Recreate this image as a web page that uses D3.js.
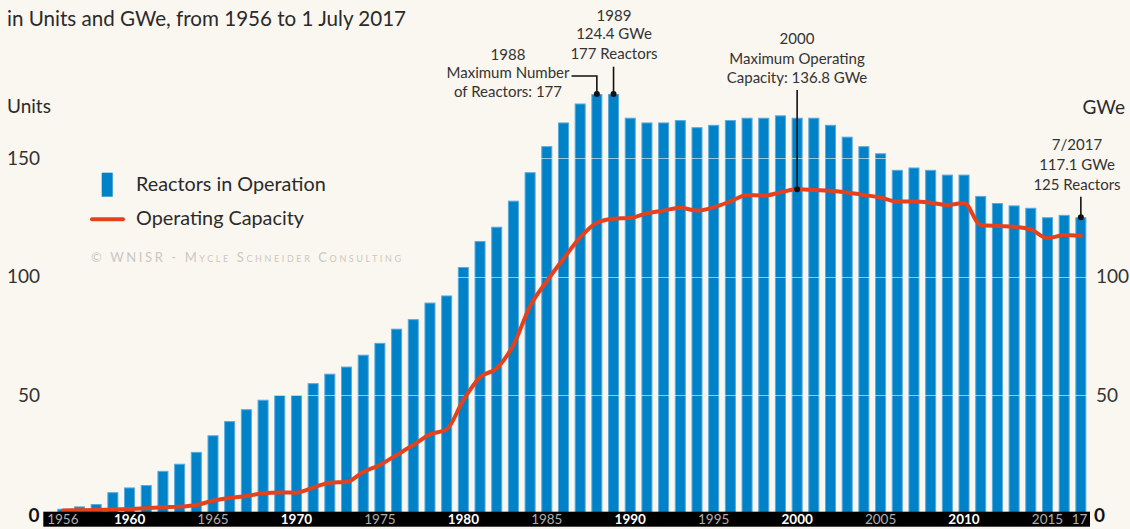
<!DOCTYPE html>
<html>
<head>
<meta charset="utf-8">
<script src="https://cdn.jsdelivr.net/npm/d3@7/dist/d3.min.js"></script>
<style>
  html, body { margin: 0; padding: 0; background: #faf7f0; }
  svg { display: block; font-family: "Lato", "Noto Sans", sans-serif; }
</style>
</head>
<body>
<svg id="chart" width="1130" height="529"></svg>
<script>
// Years shown on the chart (one bar per year, 2017 = 1 July 2017)
const years = [
  1956,1957,1958,1959,1960,1961,1962,1963,1964,1965,1966,1967,
  1968,1969,1970,1971,1972,1973,1974,1975,1976,1977,1978,1979,1980,
  1981,1982,1983,1984,1985,1986,1987,1988,1989,1990,
  1991,1992,1993,1994,1995,1996,1997,1998,1999,2000,
  2001,2002,2003,2004,2005,2006,2007,2008,2009,2010,
  2011,2012,2013,2014,2015,2016,2017
];

// Reactors in operation (units)
const reactors = [
  2,3,4,9,11,12,18,21,26,33,39,44,
  48,50,50,55,59,62,67,72,78,82,89,92,104,
  115,121,132,144,155,165,173,177,177,167,
  165,165,166,163,164,166,167,167,168,167,
  167,164,159,155,152,145,146,145,143,143,
  134,131,130,129,125,126,125
];

// Operating capacity (GWe)
const capacity = [
  1.3,1.4,1.5,1.7,1.9,2.2,2.6,2.9,3.6,5.4,6.5,7.4,
  8.5,8.9,8.8,10.9,13,13.3,17.5,20.5,24.7,28.9,33.4,35.5,47.9,
  57.5,61.3,71.1,87.5,98,107.5,116.5,122.7,124.4,124.7,
  126.7,127.8,129,127.8,129.2,131.7,134.4,134.1,135.5,136.8,
  136.5,136.2,135.4,134.4,133.3,131.6,131.6,131.1,130.2,131,
  121.7,121.3,121,119.9,116.1,117.5,117.1
];

// Year labels in the bottom band
const tickYears  = [1956,1960,1965,1970,1975,1980,1985,1990,1995,2000,2005,2010,2015,2017];
const tickLabels = ["1956","1960","1965","1970","1975","1980","1985","1990","1995","2000","2005","2010","2015","17"];
const boldYears  = [1960,1970,1980,1990,2000,2010];

const leftTicks  = [50,100,150];
const rightTicks = [50,100];
const gridValues = [50,100,150];

const BAR = "#0082c8", BAR_EDGE = "#5aa9dd", LINE = "#e5411c", BG = "#faf7f0", INK = "#2a2a2a";

const svg = d3.select("#chart");
svg.append("rect").attr("width",1130).attr("height",529).attr("fill",BG);

const x = d3.scaleBand().domain(years).range([54.45, 1089.2]).paddingInner(0.34).paddingOuter(0.17);
const y = d3.scaleLinear().domain([0, 100]).range([513.5, 276.5]);
const cx = yr => x(yr) + x.bandwidth() / 2;

// Bars: reactors in operation
svg.append("g").selectAll("rect").data(years).join("rect")
  .attr("x", d => x(d) + 0.5)
  .attr("y", (d, i) => y(reactors[i]) + 0.5)
  .attr("width", x.bandwidth() - 1)
  .attr("height", (d, i) => y(0) - y(reactors[i]))
  .attr("fill", BAR)
  .attr("stroke", BAR_EDGE)
  .attr("stroke-width", 1);

// Light gridlines crossing the bars
svg.append("g").selectAll("line").data(gridValues).join("line")
  .attr("x1", x.range()[0]).attr("x2", x.range()[1])
  .attr("y1", d => Math.round(y(d)) + 0.5).attr("y2", d => Math.round(y(d)) + 0.5)
  .attr("stroke", BG).attr("stroke-opacity", 0.6).attr("stroke-width", 1);

// Capacity line
const line = d3.line()
  .x((d, i) => cx(years[i]))
  .y(d => y(d))
  .curve(d3.curveMonotoneX);
svg.append("path").datum(capacity)
  .attr("d", line)
  .attr("fill", "none")
  .attr("stroke", LINE)
  .attr("stroke-width", 4)
  .attr("stroke-linecap", "round")
  .attr("stroke-linejoin", "round");

// Bottom black band with year labels
svg.append("rect").attr("x", 43.3).attr("y", 511.7).attr("width", 1090 - 43.3).attr("height", 15).attr("fill", "#000");
const xAxis = d3.axisBottom(x)
  .tickValues(tickYears)
  .tickSize(0)
  .tickPadding(0)
  .tickFormat(d => tickLabels[tickYears.indexOf(d)]);
const gx = svg.append("g").attr("transform", "translate(0,512)").call(xAxis);
gx.select(".domain").remove();
gx.selectAll("text")
  .attr("y", 0).attr("dy", "0.9em")
  .style("font-family", "Lato, sans-serif")
  .style("font-size", "13.5px")
  .attr("fill", d => boldYears.includes(d) ? "#ffffff" : "#b0b0b0")
  .style("font-weight", d => boldYears.includes(d) ? "bold" : "normal");
gx.selectAll("text").filter(d => d === 2017).attr("dx", "-0.1em");

// Value axes (same scale for units and GWe)
const gl = svg.append("g").attr("transform", "translate(40,0)")
  .call(d3.axisLeft(y).tickValues(leftTicks).tickSize(0).tickPadding(0));
gl.select(".domain").remove();
gl.selectAll("text").style("font-size", "19px").style("font-family", "Lato, sans-serif").attr("fill", "#333");

const gr = svg.append("g").attr("transform", "translate(1096,0)")
  .call(d3.axisRight(y).tickValues(rightTicks).tickSize(0).tickPadding(0));
gr.select(".domain").remove();
gr.selectAll("text").style("font-size", "19px").style("font-family", "Lato, sans-serif").attr("fill", "#333");

// Zero labels at both ends of the band
svg.append("text").attr("x", 39.5).attr("y", y(0)).attr("dy", "0.45em").attr("text-anchor", "end")
  .style("font-size", "19px").style("font-weight", "bold").attr("fill", "#111").text("0");
svg.append("text").attr("x", 1094).attr("y", y(0)).attr("dy", "0.45em").attr("text-anchor", "start")
  .style("font-size", "19px").style("font-weight", "bold").attr("fill", "#111").text("0");

// Title and unit captions
svg.append("text").attr("x", 7).attr("y", 26).style("font-size", "20.6px").attr("fill", INK)
  .text("in Units and GWe, from 1956 to 1 July 2017");
svg.append("text").attr("x", 7).attr("y", 113).style("font-size", "19px").attr("fill", INK).text("Units");
svg.append("text").attr("x", 1125).attr("y", 114).attr("text-anchor", "end").style("font-size", "19px").attr("fill", INK).text("GWe");

// Legend
svg.append("rect").attr("x", 101.7).attr("y", 172.7).attr("width", 11).attr("height", 24).attr("fill", BAR);
svg.append("text").attr("x", 136).attr("y", 190.7).style("font-size", "19.8px").attr("fill", INK).text("Reactors in Operation");
svg.append("line").attr("x1", 92).attr("x2", 123).attr("y1", 219.3).attr("y2", 219.3)
  .attr("stroke", LINE).attr("stroke-width", 4).attr("stroke-linecap", "round");
svg.append("text").attr("x", 136).attr("y", 225.3).style("font-size", "19.8px").attr("fill", INK).text("Operating Capacity");

// Copyright line
svg.append("text").attr("x", 91).attr("y", 261.7)
  .style("font-size", "13px").style("font-variant", "small-caps").style("letter-spacing", "2.6px")
  .attr("fill", "#cbc7bf").text("© WNISR - Mycle Schneider Consulting");

// Annotations
const ann = svg.append("g").style("font-size", "15px").attr("fill", "#333");
function block(xc, baselines, lines) {
  lines.forEach((t, i) => ann.append("text").attr("x", xc).attr("y", baselines[i]).attr("text-anchor", "middle").text(t));
}
block(508, [60, 78, 97.3], ["1988", "Maximum Number", "of Reactors: 177"]);
block(614, [20.7, 39.3, 59], ["1989", "124.4 GWe", "177 Reactors"]);
block(797, [44, 64, 83.3], ["2000", "Maximum Operating", "Capacity: 136.8 GWe"]);
block(1077, [150, 170, 190], ["7/2017", "117.1 GWe", "125 Reactors"]);

// Leader lines from the annotation texts to their marks
const lead = svg.append("g").attr("stroke", "#111").attr("stroke-width", 1.6).attr("fill", "none");
const i1988 = years.indexOf(1988), i1989 = years.indexOf(1989), i2000 = years.indexOf(2000), i2017 = years.indexOf(2017);
lead.append("path").attr("d", `M571.5,76 H${cx(1988)} V${y(reactors[i1988])}`);
lead.append("path").attr("d", `M${cx(1989)},66.7 V${y(reactors[i1989])}`);
lead.append("path").attr("d", `M${cx(2000)},90 V${y(capacity[i2000])}`);
lead.append("path").attr("d", `M${cx(2017)},196.7 V${y(reactors[i2017])}`);
const dots = [[cx(1988), y(reactors[i1988])], [cx(1989), y(reactors[i1989])], [cx(2000), y(capacity[i2000])], [cx(2017), y(reactors[i2017])]];
svg.append("g").selectAll("circle").data(dots).join("circle")
  .attr("cx", d => d[0]).attr("cy", d => d[1]).attr("r", 3).attr("fill", "#111");
</script>
</body>
</html>
